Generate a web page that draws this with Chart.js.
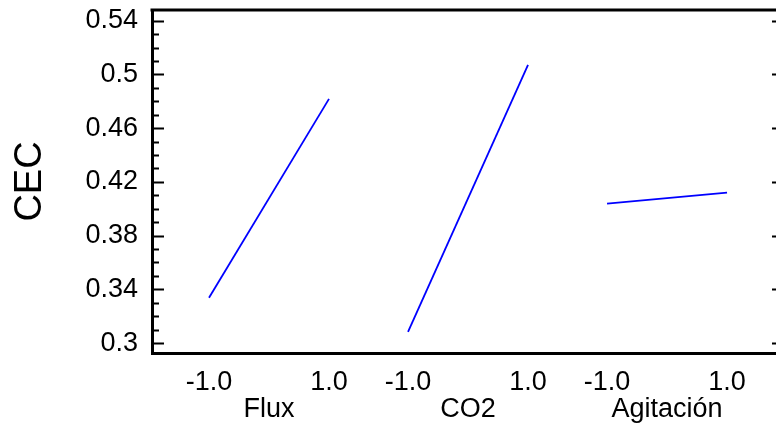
<!DOCTYPE html>
<html>
<head>
<meta charset="utf-8">
<script src="https://cdn.jsdelivr.net/npm/chart.js@4"></script>
<style>
  html, body { margin: 0; padding: 0; background: #fff; }
  #wrap { width: 776px; height: 427px; }
</style>
</head>
<body>
<div id="wrap"><canvas id="chart" width="776" height="427"></canvas></div>
<script>
// Data (main effects: CEC vs coded factor level)
const factors = ['Flux', 'CO2', 'Agitación'];
const lowValues = [0.3337, 0.3084, 0.4038];   // at level -1.0
const highValues = [0.4818, 0.5071, 0.4120];  // at level 1.0
const levelLabels = ['-1.0', '1.0'];
const yMajorTicks = [0.3, 0.34, 0.38, 0.42, 0.46, 0.5, 0.54];
const yMinorStep = 0.01;

// layout of the factor slots along the x scale
const slotStart = 1.95;
const slotSpacing = 3.317;
const center = (i) => slotStart + i * slotSpacing;

const datasets = factors.map((f, i) => ({
    label: f,
    data: [
        { x: center(i) - 1, y: lowValues[i] },
        { x: center(i) + 1, y: highValues[i] }
    ],
    showLine: true,
    borderColor: '#0000ff',
    borderWidth: 1.8,
    pointRadius: 0,
    fill: false
}));

const xTicks = [];
factors.forEach((f, i) => {
    xTicks.push({ value: center(i) - 1, label: levelLabels[0] });
    xTicks.push({ value: center(i), label: ['', f] });
    xTicks.push({ value: center(i) + 1, label: levelLabels[1] });
});

// frame: top border plus inward tick marks on left and right
const framePlugin = {
    id: 'frame',
    afterDraw(chart) {
        const { ctx, chartArea: a, scales: { y } } = chart;
        ctx.save();
        ctx.strokeStyle = '#000';
        ctx.lineWidth = 3;
        ctx.beginPath();
        ctx.moveTo(a.left - 1.5, a.top);
        ctx.lineTo(a.right, a.top);
        ctx.stroke();

        ctx.lineWidth = 2;
        ctx.beginPath();
        for (let v = 0.3; v <= 0.5401; v += yMinorStep) {
            const vv = Math.round(v * 100) / 100;
            const py = Math.round(y.getPixelForValue(vv)) + 0.5;
            const major = yMajorTicks.some(m => Math.abs(m - vv) < 1e-6);
            ctx.moveTo(a.left, py);
            ctx.lineTo(a.left + (major ? 12 : 7), py);
            if (major) {
                ctx.moveTo(a.right - 4, py);
                ctx.lineTo(a.right, py);
            }
        }
        ctx.stroke();
        ctx.restore();
    }
};

const font = 'Liberation Sans, Arial, sans-serif';

new Chart(document.getElementById('chart'), {
    type: 'scatter',
    data: { datasets },
    options: {
        responsive: false,
        animation: false,
        layout: { padding: { top: 10, right: 0, bottom: 0, left: 0 } },
        plugins: { legend: { display: false }, tooltip: { enabled: false } },
        scales: {
            x: {
                type: 'linear',
                min: 0,
                max: 10.4,
                grid: { display: false, drawTicks: false },
                border: { display: true, color: '#000', width: 3 },
                afterBuildTicks: (scale) => { scale.ticks = xTicks.map(t => ({ value: t.value })); },
                afterFit: (scale) => {
                    scale.height = 74;
                    scale.paddingLeft = 0;
                    scale.paddingRight = 0;
                },
                ticks: {
                    autoSkip: false,
                    maxRotation: 0,
                    padding: 16,
                    color: '#000',
                    font: { family: font, size: 27, lineHeight: 1.0 },
                    callback: (v) => {
                        const t = xTicks.find(t => Math.abs(t.value - v) < 1e-6);
                        return t ? t.label : '';
                    }
                }
            },
            y: {
                min: 0.2926,
                max: 0.548,
                grid: { display: false, drawTicks: false },
                border: { display: true, color: '#000', width: 3 },
                afterBuildTicks: (scale) => { scale.ticks = yMajorTicks.map(v => ({ value: v })); },
                afterFit: (scale) => {
                    scale.width = 152;
                    scale.paddingTop = 0;
                    scale.paddingBottom = 0;
                },
                title: {
                    display: true,
                    text: 'CEC',
                    color: '#000',
                    font: { family: font, size: 38 },
                    padding: { top: 8, bottom: 0 }
                },
                ticks: {
                    padding: 14,
                    color: '#000',
                    font: { family: font, size: 27 },
                    callback: (v) => String(Math.round(v * 100) / 100)
                }
            }
        }
    },
    plugins: [framePlugin]
});
</script>
</body>
</html>
